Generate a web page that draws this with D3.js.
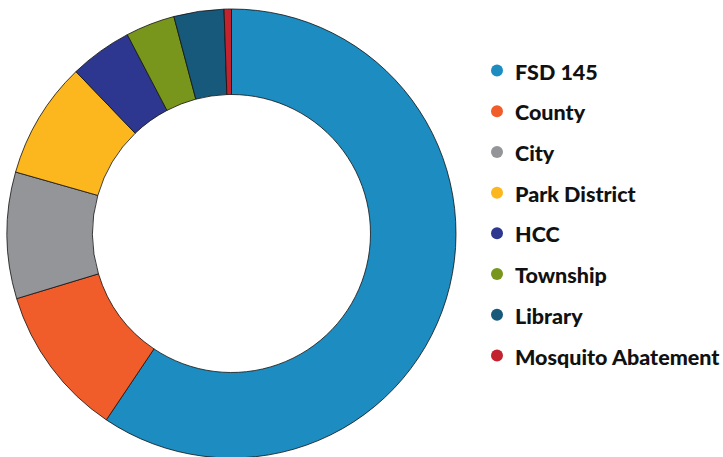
<!DOCTYPE html>
<html>
<head>
<meta charset="utf-8">
<script src="https://cdn.jsdelivr.net/npm/d3@7"></script>
<style>
  body { margin: 0; background: #fff; }
  svg { display: block; }
</style>
</head>
<body>
<div id="chart"></div>
<script>
const width = 723, height = 457;

// share of tax bill by taxing body (percent)
const categories = ["FSD 145", "County", "City", "Park District", "HCC", "Township", "Library", "Mosquito Abatement"];
const values = [59.4, 10.9, 9.1, 8.4, 4.5, 3.55, 3.6, 0.53];
const colors = ["#1d8dc1", "#f15d2a", "#939598", "#fdb71e", "#2e3790", "#77961b", "#17597a", "#c2232f"];

const data = categories.map((c, i) => ({name: c, value: values[i]}));

const svg = d3.select("#chart")
    .append("svg")
    .attr("width", width)
    .attr("height", height);

const cx = 231.5, cy = 233.5;
const outerR = 224.5, innerR = 139;

const color = d3.scaleOrdinal()
    .domain(categories)
    .range(colors);

const pie = d3.pie()
    .sort(null)
    .value(function (d) { return d.value; });

const arc = d3.arc()
    .innerRadius(innerR)
    .outerRadius(outerR);

const g = svg.append("g")
    .attr("transform", `translate(${cx},${cy})`);

g.selectAll("path")
    .data(pie(data))
    .enter()
    .append("path")
    .attr("d", arc)
    .attr("fill", function (d) { return color(d.data.name); })
    .attr("stroke", "#111")
    .attr("stroke-width", 0.8);

// legend
const legendY = d3.scalePoint()
    .domain(categories)
    .range([72, 357]);

const legend = svg.append("g");

const rows = legend.selectAll("g")
    .data(categories)
    .enter()
    .append("g")
    .attr("transform", function (d) { return `translate(0,${legendY(d)})`; });

rows.append("circle")
    .attr("cx", 497)
    .attr("cy", -1.5)
    .attr("r", 6)
    .attr("fill", function (d) { return color(d); });

rows.append("text")
    .attr("x", 515)
    .attr("y", 7.5)
    .style("font-family", "Lato, sans-serif")
    .style("font-weight", 900)
    .style("font-size", "21.5px")
    .attr("fill", "#111")
    .text(function (d) { return d; });
</script>
</body>
</html>
